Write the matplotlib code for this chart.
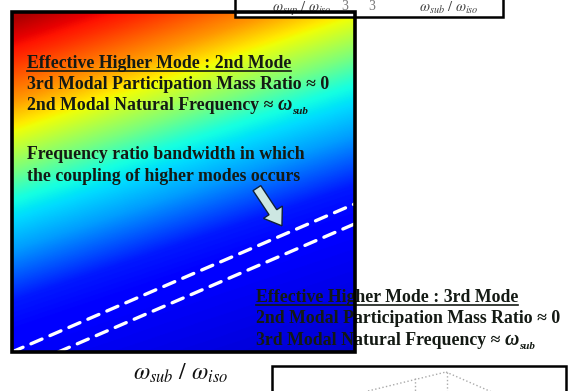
import numpy as np
import matplotlib
matplotlib.use("Agg")
import matplotlib.pyplot as plt
from matplotlib.patches import Rectangle, FancyArrow
from matplotlib.lines import Line2D

plt.rcParams['mathtext.fontset'] = 'stix'
SERIF = ['Liberation Serif', 'DejaVu Serif']

W, H = 576, 391
fig = plt.figure(figsize=(W / 100, H / 100), dpi=100)
fig.patch.set_facecolor('white')


def fx(px):
    return px / W


def fy(py):
    return 1 - py / H


# Colour field: level s = y - tilt * x, mapped onto jet through anchor levels
field_tilt = 0.34
field_levels = [-0.40, 0.00, 0.15, 0.30, 0.45, 0.535, 0.64, 0.74, 0.86, 0.98]
field_values = [0.06, 0.11, 0.15, 0.28, 0.38, 0.50, 0.63, 0.75, 0.86, 0.96]

# Coupling bandwidth: two parallel boundary lines  y = slope * (x - offset)
band_slope = 0.436
band_offsets = [0.0, 0.135]

ax = fig.add_axes([fx(12), fy(352), fx(343), 340 / H])
gx = np.linspace(0, 1, 400)
gy = np.linspace(0, 1, 400)
GX, GY = np.meshgrid(gx, gy)
S = GY - field_tilt * GX
V = np.interp(S, field_levels, field_values)
ax.imshow(V, cmap='jet', vmin=0, vmax=1, origin='lower',
          extent=[0, 1, 0, 1], aspect='auto', interpolation='bilinear')
for off in band_offsets:
    xs = np.array([off, 1.0])
    ax.plot(xs, band_slope * (xs - off), color='white', lw=2.4,
            dashes=(3.6, 2.6), dash_capstyle='round')
ax.set_xlim(0, 1)
ax.set_ylim(0, 1)
ax.set_xticks([])
ax.set_yticks([])
for sp in ax.spines.values():
    sp.set_visible(False)

# Arrow pointing at the bandwidth
ax.add_patch(FancyArrow(0.714, 0.482, 0.073, -0.111, width=0.027,
                        head_width=0.066, head_length=0.048,
                        length_includes_head=True, facecolor='#cde7e2',
                        edgecolor='#10203a', lw=1.0, zorder=5))

TXT = '#141a14'
FS = 12.8


def right_edge(t):
    fig.canvas.draw()
    return t.get_window_extent(fig.canvas.get_renderer()).x1


def label(px, py, s, underline=False, omega_sub=False, size=FS):
    t = fig.text(fx(px), fy(py), s, family=SERIF, weight='bold', size=size,
                 color=TXT, ha='left', va='baseline', zorder=10)
    if underline:
        fig.canvas.draw()
        bb = t.get_window_extent(fig.canvas.get_renderer())
        yl = fy(py + 3)
        fig.add_artist(Line2D([bb.x0 / W, bb.x1 / W], [yl, yl],
                              color=TXT, lw=1.2, zorder=10))
    if omega_sub:
        x1 = right_edge(t)
        w = fig.text((x1 + 4) / W, fy(py), '\u03c9', family=SERIF,
                     weight='bold', style='italic', size=size + 1.5,
                     color=TXT, ha='left', va='baseline', zorder=10)
        x2 = right_edge(w)
        fig.text((x2 + 0.5) / W, fy(py + 4), 'sub', family=SERIF,
                 weight='bold', style='italic', size=size * 0.62,
                 color=TXT, ha='left', va='baseline', zorder=10)
    return t


label(27, 68, 'Effective Higher Mode : 2nd Mode', underline=True)
label(27, 89, '3rd Modal Participation Mass Ratio \u2248 0')
label(27, 110, '2nd Modal Natural Frequency \u2248', omega_sub=True)
label(27, 159, 'Frequency ratio bandwidth in which')
label(27, 181, 'the coupling of higher modes occurs')

label(256, 302, 'Effective Higher Mode : 3rd Mode', underline=True)
label(256, 323, '2nd Modal Participation Mass Ratio \u2248 0')
label(256, 345, '3rd Modal Natural Frequency \u2248', omega_sub=True)

# Frame of the field, drawn over the captions
fig.add_artist(Rectangle((fx(12), fy(352)), fx(343), 340 / H,
                         transform=fig.transFigure, fill=False,
                         edgecolor='black', lw=2.6, zorder=12))

# Axis title under the field
fig.text(fx(181), fy(380), r'$\omega_{sub}\ /\ \omega_{iso}$', size=17,
         color='#111111', ha='center', va='baseline')

# Neighbouring panel above
fig.add_artist(Rectangle((fx(235), fy(17)), fx(268), 30 / H,
                         transform=fig.transFigure, facecolor='white',
                         edgecolor='black', lw=1.8, zorder=3))
fig.text(fx(302), fy(12), r'$\omega_{sup}\ /\ \omega_{iso}$', size=10.5,
         color='#444444', ha='center', va='baseline', zorder=4)
fig.text(fx(345), fy(10), '3', family=SERIF, size=10,
         color='#777777', ha='center', va='baseline', zorder=4)
fig.text(fx(372), fy(10), '3', family=SERIF, size=10,
         color='#777777', ha='center', va='baseline', zorder=4)
fig.text(fx(449), fy(12), r'$\omega_{sub}\ /\ \omega_{iso}$', size=10.5,
         color='#444444', ha='center', va='baseline', zorder=4)

# Neighbouring panel below
fig.add_artist(Rectangle((fx(272), fy(400)), fx(294), 34 / H,
                         transform=fig.transFigure, facecolor='white',
                         edgecolor='black', lw=1.8, zorder=3))
for (x0, y0, x1, y1) in [(368, 391, 446, 372), (446, 372, 494, 393),
                         (415, 378, 415, 391), (447, 372, 447, 391)]:
    fig.add_artist(Line2D([fx(x0), fx(x1)], [fy(y0), fy(y1)],
                          color='#aaaaaa', lw=1.0, ls=':', zorder=4))

fig.savefig('out.png', dpi=100)
